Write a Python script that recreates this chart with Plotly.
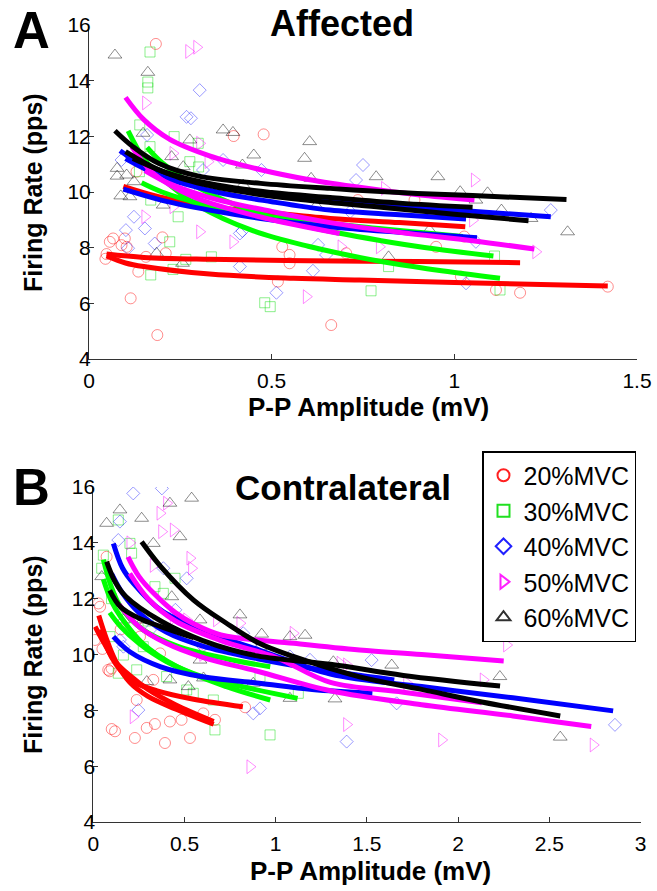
import plotly.graph_objects as go

# ---------------- Panel A (Affected) scatter data ----------------
A20_x = [0.183, 0.396, 0.478, 0.048, 0.057, 0.066, 0.089, 0.098, 0.103, 0.135, 0.114, 0.187, 0.201, 0.21, 0.156, 0.13,
         0.529, 0.549, 0.549, 0.517, 0.663, 0.704, 1.42, 1.18, 1.114, 1.018, 1.027, 0.95, 0.736, 0.891, 0.045]
A20_y = [15.32, 12.01, 12.07, 7.77, 8.21, 8.33, 8.09, 8.33, 8.03, 7.14, 6.18, 4.86, 8.37, 7.8, 7.67, 10.73,
         8.03, 7.74, 7.44, 6.78, 5.22, 7.8, 6.6, 6.38, 6.48, 6.96, 8.4, 8.03, 9.71, 9.71, 7.6]

A30_x = [0.167, 0.161, 0.161, 0.139, 0.233, 0.299, 0.167, 0.276, 0.138, 0.169, 0.244, 0.221, 0.169, 0.23, 0.265, 0.335,
         0.481, 0.496, 0.772, 0.82, 1.11, 1.125, 0.30]
A30_y = [15.03, 13.95, 13.74, 12.41, 11.99, 11.75, 11.63, 11.09, 10.73, 9.71, 9.11, 8.21, 7.02, 7.22, 7.58, 7.67,
         6.02, 5.88, 6.45, 7.32, 7.7, 6.48, 10.9]

A40_x = [0.303, 0.267, 0.279, 0.367, 0.472, 0.123, 0.101, 0.107, 0.153, 0.18, 0.089, 0.159, 0.312, 0.413, 0.42, 0.413,
         0.513, 0.613, 0.627, 0.649, 0.731, 0.715, 0.75, 1.264, 1.032, 1.059, 0.28]
A40_y = [13.66, 12.7, 12.65, 11.15, 10.79, 9.11, 8.63, 7.98, 8.69, 8.15, 11.15, 12.05, 10.79, 8.51, 8.6, 7.32,
         6.38, 7.17, 8.1, 7.74, 10.43, 9.29, 10.97, 9.35, 6.72, 8.21, 10.2]

A50_x = [0.273, 0.295, 0.155, 0.303, 0.23, 0.326, 0.153, 0.23, 0.303, 0.394, 0.595, 0.349, 0.69, 1.055, 1.223, 0.795,
         0.809, 1.05, 0.25]
A50_y = [15.05, 15.2, 13.2, 11.75, 11.39, 11.09, 9.11, 9.47, 8.57, 8.21, 6.24, 9.95, 8.03, 10.43, 7.85, 8.03,
         10.13, 8.99, 10.4]

A60_x = [0.071, 0.161, 0.367, 0.394, 0.604, 0.59, 0.451, 0.42, 0.276, 0.226, 0.258, 0.077, 0.077, 0.103, 0.087, 0.112,
         0.123, 0.148, 0.203, 0.185, 0.256, 0.422, 0.608, 0.622, 0.786, 0.955, 1.016, 1.091, 1.129, 1.21, 1.31, 0.82,
         0.932, 1.059]
A60_y = [14.92, 14.3, 12.23, 12.14, 11.81, 11.21, 11.33, 10.97, 11.87, 11.27, 10.91, 10.85, 10.57, 10.61, 9.86, 9.83,
         10.37, 12.11, 9.53, 7.8, 7.44, 10.25, 10.49, 9.5, 10.55, 10.55, 10.01, 9.97, 9.35, 9.05, 8.57, 7.67,
         8.63, 9.71]

# ---------------- Panel A fitted curves ----------------
A_fit20 = [
    ([0.094, 0.19, 0.33, 0.47, 0.66, 0.85, 1.03], [10.2, 9.83, 9.47, 9.29, 9.05, 8.9, 8.75]),
    ([0.048, 0.15, 0.33, 0.6, 0.9, 1.18], [7.77, 7.65, 7.58, 7.53, 7.5, 7.46]),
    ([0.048, 0.1, 0.15, 0.33, 0.56, 0.74, 1.0, 1.42], [7.7, 7.45, 7.32, 7.05, 6.9, 6.84, 6.75, 6.62]),
]
A_fit30 = [
    ([0.107, 0.15, 0.2, 0.3, 0.45, 0.6, 0.8, 0.95, 1.125], [12.2, 11.2, 10.5, 9.5, 8.6, 8.05, 7.5, 7.2, 6.9]),
    ([0.159, 0.2, 0.3, 0.45, 0.6, 0.8, 0.95, 1.107], [11.6, 11.05, 10.15, 9.3, 8.75, 8.25, 7.95, 7.7]),
    ([0.144, 0.2, 0.3, 0.45, 0.6, 0.8, 1.023], [10.33, 10.0, 9.6, 9.2, 8.95, 8.68, 8.4]),
]
A_fit40 = [
    ([0.085, 0.15, 0.25, 0.4, 0.55, 0.74, 1.0, 1.264], [11.48, 10.95, 10.5, 10.1, 9.85, 9.6, 9.35, 9.11]),
    ([0.1, 0.2, 0.35, 0.5, 0.66, 0.85, 1.032], [11.2, 10.55, 10.0, 9.65, 9.35, 9.18, 9.03]),
    ([0.094, 0.2, 0.33, 0.47, 0.66, 0.85, 1.062], [10.1, 9.7, 9.35, 9.05, 8.75, 8.55, 8.36]),
]
A_fit50 = [
    ([0.1, 0.15, 0.22, 0.33, 0.47, 0.6, 0.75, 0.9, 1.055], [13.4, 12.6, 11.9, 11.3, 10.8, 10.45, 10.15, 9.9, 9.71]),
    ([0.117, 0.176, 0.285, 0.467, 0.686], [11.63, 10.67, 9.83, 9.11, 8.51]),
    ([0.153, 0.22, 0.33, 0.5, 0.66, 0.85, 1.05, 1.219], [10.77, 10.3, 9.8, 9.3, 8.9, 8.55, 8.25, 7.95]),
]
A_fit60 = [
    ([0.071, 0.12, 0.19, 0.3, 0.47, 0.66, 0.85, 1.05, 1.307], [12.2, 11.63, 11.03, 10.57, 10.31, 10.13, 9.98, 9.87, 9.73]),
    ([0.1, 0.2, 0.35, 0.5, 0.66, 0.85, 1.05], [11.45, 10.75, 10.25, 9.98, 9.8, 9.6, 9.45]),
    ([0.12, 0.25, 0.4, 0.6, 0.8, 1.0, 1.203], [11.2, 10.5, 10.05, 9.7, 9.45, 9.2, 8.97]),
]

# ---------------- Panel B (Contralateral) scatter data ----------------
B20_x = [0.028, 0.037, 0.009, 0.073, 0.101, 0.119, 0.082, 0.09, 0.1, 0.228, 0.293, 0.338, 0.393, 0.42, 0.484, 0.53,
         0.238, 0.329, 0.256, 0.366, 0.603, 0.667, 0.832, 0.238, 0.05, 0.15]
B20_y = [11.83, 11.71, 10.52, 13.5, 7.33, 7.25, 9.45, 9.4, 9.5, 7.01, 7.37, 7.51, 6.83, 7.6, 7.66, 7.01,
         8.37, 9.09, 10.64, 10.04, 7.89, 7.66, 8.11, 11.24, 10.2, 10.9]

B30_x = [0.055, 0.046, 0.137, 0.201, 0.21, 0.448, 0.384, 0.338, 0.091, 0.165, 0.137, 0.238, 0.402, 0.548, 0.658, 0.667,
         0.969, 1.124, 0.914, 0.512, 0.274, 0.1, 0.3]
B30_y = [13.56, 13.09, 14.82, 13.98, 13.63, 12.73, 12.19, 12.43, 10.64, 9.98, 9.33, 9.45, 9.21, 8.61, 8.37, 7.3,
         7.12, 8.61, 9.21, 8.73, 10.28, 12.0, 11.2]

B40_x = [0.219, 0.376, 0.146, 0.137, 0.384, 0.512, 0.165, 0.146, 0.311, 0.247, 0.877, 0.914, 1.078, 1.188, 1.389, 0.822,
         1.526, 1.663, 2.86, 0.45, 0.6]
B40_y = [15.77, 15.95, 14.76, 14.1, 13.09, 12.73, 10.28, 10.52, 10.88, 8.01, 7.89, 8.07, 9.93, 9.81, 6.88, 10.76,
         9.8, 8.25, 7.48, 11.6, 10.3]

B50_x = [0.366, 0.402, 0.439, 0.375, 0.201, 0.53, 0.539, 0.329, 0.439, 0.512, 0.676, 0.804, 1.096, 1.353, 1.389, 1.389,
         0.219, 0.859, 2.266, 2.138, 1.91, 2.741, 1.718, 0.6]
B50_y = [15.06, 15.42, 14.46, 14.4, 14.0, 13.45, 13.09, 13.19, 11.3, 11.24, 11.24, 11.12, 10.76, 9.69, 9.63, 7.49,
         7.77, 5.98, 10.34, 9.09, 6.94, 6.76, 8.98, 10.0]

B60_x = [0.073, 0.146, 0.265, 0.329, 0.42, 0.539, 0.475, 0.046, 0.165, 0.274, 0.43, 0.585, 0.804, 0.923, 1.078, 1.161,
         0.585, 0.42, 0.521, 0.293, 0.604, 0.877, 1.078, 1.316, 1.325, 0.914, 1.636, 2.229, 2.56]
B60_y = [14.7, 15.18, 14.88, 13.98, 15.42, 15.6, 14.22, 12.79, 11.24, 11.24, 12.07, 11.24, 11.42, 10.73, 10.64, 10.69,
         9.8, 9.09, 8.85, 9.03, 9.16, 8.97, 8.43, 9.74, 8.41, 10.28, 9.62, 9.21, 7.04]

# ---------------- Panel B fitted curves ----------------
B_fit20 = [
    ([0.01, 0.06, 0.12, 0.2, 0.3, 0.45, 0.66], [11.0, 10.4, 9.75, 9.25, 8.75, 8.2, 7.6]),
    ([0.03, 0.07, 0.12, 0.2, 0.3, 0.45, 0.66], [11.4, 10.6, 9.8, 9.0, 8.5, 8.05, 7.5]),
    ([0.04, 0.1, 0.2, 0.35, 0.55, 0.82], [10.9, 9.9, 9.1, 8.7, 8.4, 8.13]),
]
B_fit30 = [
    ([0.055, 0.1, 0.15, 0.27, 0.46, 0.73, 0.97], [13.4, 12.4, 11.7, 10.9, 10.3, 9.85, 9.56]),
    ([0.055, 0.1, 0.15, 0.27, 0.46, 0.73, 0.97], [12.7, 11.9, 11.35, 10.4, 9.56, 8.85, 8.37]),
    ([0.09, 0.15, 0.25, 0.4, 0.6, 0.85, 1.12], [11.5, 11.0, 10.4, 9.75, 9.2, 8.8, 8.43]),
]
B_fit40 = [
    ([0.11, 0.16, 0.22, 0.37, 0.59, 0.91, 1.3, 1.8, 2.3, 2.85], [13.98, 13.1, 12.55, 11.59, 10.88, 10.16, 9.3, 8.85, 8.45, 7.98]),
    ([0.1, 0.16, 0.25, 0.4, 0.6, 0.9, 1.2, 1.65], [12.9, 12.2, 11.5, 10.8, 10.3, 9.85, 9.5, 9.09]),
    ([0.11, 0.2, 0.37, 0.6, 0.91, 1.2, 1.53], [10.64, 10.1, 9.56, 9.2, 8.97, 8.75, 8.61]),
]
B_fit50 = [
    ([0.19, 0.25, 0.33, 0.45, 0.55, 0.7, 1.1, 1.46, 1.8, 2.25], [13.5, 12.8, 12.2, 11.5, 11.1, 10.7, 10.4, 10.16, 10.0, 9.77]),
    ([0.14, 0.25, 0.4, 0.6, 0.9, 1.3, 1.8, 2.3, 2.73], [11.8, 11.0, 10.4, 9.9, 9.4, 8.7, 8.2, 7.8, 7.42]),
    ([0.2, 0.3, 0.45, 0.7, 1.0, 1.3, 1.7, 2.13], [12.9, 12.0, 11.2, 10.5, 9.9, 9.0, 8.65, 8.27]),
]
B_fit60 = [
    ([0.265, 0.37, 0.55, 0.73, 0.91, 1.1, 1.46, 1.8, 2.13, 2.56], [14.04, 13.15, 11.95, 11.12, 10.4, 9.92, 9.2, 8.75, 8.3, 7.8]),
    ([0.073, 0.12, 0.18, 0.37, 0.6, 0.9, 1.3, 1.7, 2.23], [13.33, 12.6, 12.07, 11.2, 10.5, 9.95, 9.65, 9.25, 8.87]),
    ([0.09, 0.15, 0.25, 0.37, 0.55], [12.3, 11.7, 11.3, 11.0, 10.6]),
]

levels = ["20%MVC", "30%MVC", "40%MVC", "50%MVC", "60%MVC"]
line_colors = ["#ff0000", "#00ff00", "#0000ff", "#ff00ff", "#000000"]
marker_colors = ["rgba(255,0,0,0.45)", "rgba(0,220,0,0.45)", "rgba(0,0,255,0.4)",
                 "rgba(255,0,255,0.45)", "rgba(0,0,0,0.45)"]
legend_colors = ["#ff2020", "#20e020", "#2020ff", "#ff20ff", "#303030"]
symbols = ["circle-open", "square-open", "diamond-open", "triangle-right-open", "triangle-up-open"]
sizes = [11, 10, 10, 12, 12]

FONT = "Liberation Sans, Arial, Helvetica, sans-serif"

fig = go.Figure()

panels = [
    ("x", "y", [(A20_x, A20_y), (A30_x, A30_y), (A40_x, A40_y), (A50_x, A50_y), (A60_x, A60_y)],
     [A_fit20, A_fit30, A_fit40, A_fit50, A_fit60]),
    ("x2", "y2", [(B20_x, B20_y), (B30_x, B30_y), (B40_x, B40_y), (B50_x, B50_y), (B60_x, B60_y)],
     [B_fit20, B_fit30, B_fit40, B_fit50, B_fit60]),
]

for xa, ya, scat, fits in panels:
    for i, (sx, sy) in enumerate(scat):
        fig.add_trace(go.Scatter(
            x=sx, y=sy, mode="markers", xaxis=xa, yaxis=ya, showlegend=False,
            marker=dict(symbol=symbols[i], size=sizes[i], color=marker_colors[i],
                        line=dict(width=1, color=marker_colors[i])),
            hoverinfo="skip"))
    for i, fl in enumerate(fits):
        for fx, fy in fl:
            fig.add_trace(go.Scatter(
                x=fx, y=fy, mode="lines", xaxis=xa, yaxis=ya, showlegend=False,
                line=dict(color=line_colors[i], width=5, shape="spline", smoothing=1.0),
                hoverinfo="skip"))

# legend-only entries
for i, lab in enumerate(levels):
    fig.add_trace(go.Scatter(
        x=[None], y=[None], mode="markers", name=lab, xaxis="x2", yaxis="y2",
        legendgroup=lab,
        marker=dict(symbol=symbols[i], size=sizes[i] + 1, color=legend_colors[i],
                    line=dict(width=1.2, color=legend_colors[i]))))

W, H = 657, 891


def px2x(px):
    return px / W


def py2y(py):
    return 1 - py / H


axis_common = dict(showline=True, linecolor="#333333", linewidth=1, ticks="inside", ticklen=5,
                   tickcolor="#333333", showgrid=False, zeroline=False, mirror=False, automargin=False,
                   tickfont=dict(family=FONT, size=21, color="black"))

fig.update_layout(
    template="none",
    width=W, height=H, margin=dict(l=0, r=0, t=0, b=0, pad=0, autoexpand=False),
    paper_bgcolor="white", plot_bgcolor="white",
    xaxis=dict(domain=[px2x(89), px2x(637)], range=[0, 1.5], tick0=0, dtick=0.5, anchor="y",
               ticklabelstandoff=3, **axis_common),
    yaxis=dict(domain=[py2y(359), py2y(25)], range=[4, 16], tick0=4, dtick=2, anchor="x",
               ticklabelstandoff=-7, **axis_common),
    xaxis2=dict(domain=[px2x(93.3), px2x(640.5)], range=[0, 3], tick0=0, dtick=0.5, anchor="y2",
                ticklabelstandoff=3, **axis_common),
    yaxis2=dict(domain=[py2y(822), py2y(487)], range=[4, 16], tick0=4, dtick=2, anchor="x2",
                ticklabelstandoff=-7, **axis_common),
    legend=dict(x=px2x(482), y=py2y(451), xanchor="left", yanchor="top",
                bordercolor="black", borderwidth=1.5, bgcolor="white",
                font=dict(family=FONT, size=25, color="black"),
                tracegroupgap=0, itemsizing="constant", itemwidth=30),
    showlegend=True,
)

# (text, x px, y px, font size, angle, yanchor)
annots = [
    ("<b>A</b>", 31, 0, 51, 0, "top"),
    ("<b>B</b>", 31, 488, 51, 0, "middle"),
    ("<b>Affected</b>", 342, 24, 36, 0, "middle"),
    ("<b>Contralateral</b>", 343, 488, 35, 0, "middle"),
    ("<b>P-P Amplitude (mV)</b>", 368, 407, 26, 0, "middle"),
    ("<b>P-P Amplitude (mV)</b>", 370, 871, 26, 0, "middle"),
    ("<b>Firing Rate (pps)</b>", 33, 193, 25, -90, "middle"),
    ("<b>Firing Rate (pps)</b>", 33, 655, 25, -90, "middle"),
]
for text, px, py, size, ang, ya in annots:
    fig.add_annotation(text=text, x=px2x(px), y=py2y(py), xref="paper", yref="paper",
                       xanchor="center", yanchor=ya, showarrow=False, textangle=ang,
                       font=dict(family=FONT, size=size, color="black"))

fig.write_html("out.html", config={"displayModeBar": False, "staticPlot": True},
               post_script="document.body.style.margin='0';document.body.style.overflow='hidden';")
